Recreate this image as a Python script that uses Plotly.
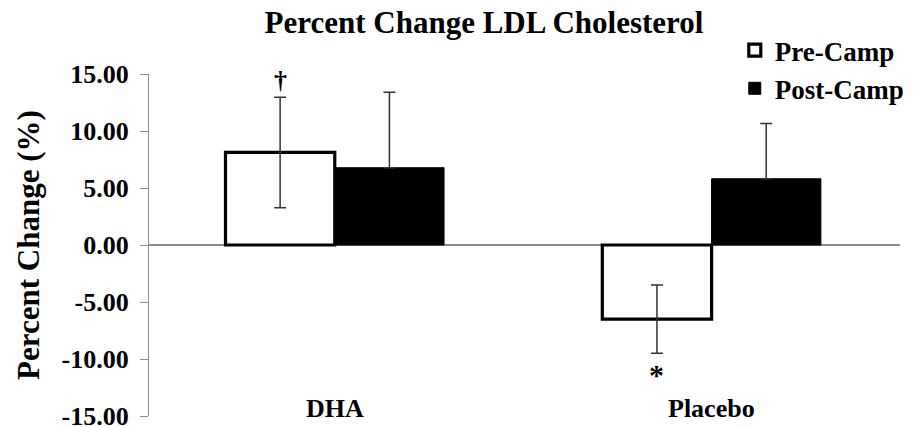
import plotly.graph_objects as go

# Study groups and the two measurement occasions
groups = ["DHA", "Placebo"]
series_names = ["Pre-Camp", "Post-Camp"]

# Mean percent change in LDL cholesterol and standard deviations
pre_values = [8.12, -6.50]
pre_sd = [4.85, 3.00]
post_values = [6.78, 5.81]
post_sd = [6.61, 4.85]

# Significance marks placed on the Pre-Camp bars
pre_marks = ["†", "*"]

y_ticks = [15, 10, 5, 0, -5, -10, -15]

FONT = "Liberation Serif"
BAR_W = 0.29
x_idx = list(range(len(groups)))
x_pre = [i - BAR_W / 2 for i in x_idx]
x_post = [i + BAR_W / 2 for i in x_idx]

fig = go.Figure()

fig.add_trace(go.Bar(
    name="<b>" + series_names[0] + "</b>", x=x_pre, y=pre_values, width=BAR_W,
    marker=dict(color="white", line=dict(color="black", width=3.2)),
    error_y=dict(type="data", array=pre_sd, symmetric=True,
                 color="#333333", thickness=1.5, width=6),
))
fig.add_trace(go.Bar(
    name="<b>" + series_names[1] + "</b>", x=x_post, y=post_values, width=BAR_W,
    marker=dict(color="black", line=dict(color="black", width=1)),
    error_y=dict(type="data", array=post_sd, arrayminus=[0] * len(post_sd),
                 symmetric=False, color="#333333", thickness=1.5, width=6),
))

# Significance symbols: dagger above positive bars, asterisk below negative bars
for xp, v, sd, mark in zip(x_pre, pre_values, pre_sd, pre_marks):
    if v >= 0:
        fig.add_annotation(x=xp, y=v + sd, text=f"<b>{mark}</b>", showarrow=False,
                           yanchor="bottom", yshift=0,
                           font=dict(family=FONT, size=26, color="black"))
    else:
        fig.add_annotation(x=xp, y=v - sd, text=f"<b>{mark}</b>", showarrow=False,
                           yanchor="top", yshift=-3,
                           font=dict(family=FONT, size=30, color="black"))

# Category labels along the bottom edge of the plot
for i, g in zip(x_idx, groups):
    fig.add_annotation(x=i, y=0, yref="paper", text=f"<b>{g}</b>", showarrow=False,
                       yanchor="middle", yshift=8,
                       font=dict(family=FONT, size=26, color="black"))

fig.update_layout(
    width=913, height=427,
    margin=dict(l=149, r=13, t=74, b=11, autoexpand=False),
    paper_bgcolor="white", plot_bgcolor="white",
    barmode="overlay",
    title=dict(text="<b>Percent Change LDL Cholesterol</b>",
               x=484 / 913, xanchor="center", xref="container",
               y=1 - 22 / 427, yanchor="middle", yref="container",
               font=dict(family=FONT, size=31, color="black")),
    legend=dict(x=0.780, y=1.14, xanchor="left", yanchor="top",
                font=dict(family=FONT, size=27, color="black"),
                bgcolor="rgba(0,0,0,0)", itemwidth=30),
    xaxis=dict(range=[-0.493, 1.5], showticklabels=False, showline=False,
               showgrid=False, zeroline=False, ticks="", automargin=False),
    yaxis=dict(range=[-15, 15], tickvals=y_ticks,
               ticktext=[f"<b>{t:.2f}</b>" for t in y_ticks],
               tickfont=dict(family=FONT, size=26, color="black"),
               ticklabeloverflow="allow", automargin=False,
               showgrid=False, showline=True, linecolor="#8c8c8c", linewidth=1.2,
               ticks="outside", ticklen=8, tickcolor="#8c8c8c", tickwidth=1.2,
               ticklabelstandoff=6,
               zeroline=True, zerolinecolor="#8c8c8c", zerolinewidth=1.6,
               title=dict(text="<b>Percent Change (%)</b>",
                          font=dict(family=FONT, size=31, color="black"),
                          standoff=12)),
)

fig.write_html("out.html")
